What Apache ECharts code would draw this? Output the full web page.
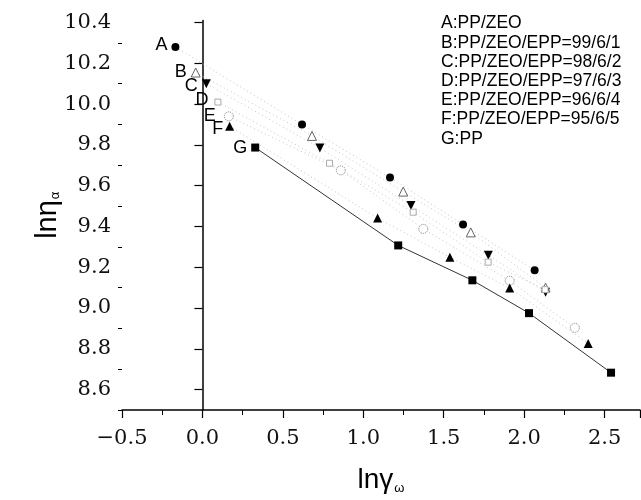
<!DOCTYPE html>
<html>
<head>
<meta charset="utf-8">
<script src="https://cdn.jsdelivr.net/npm/echarts@6/dist/echarts.min.js"></script>
<style>html,body{margin:0;padding:0;background:#fff}#c{width:641px;height:500px}</style>
</head>
<body>
<div id="c"></div>
<script>
// Data: [ln(shear rate), ln(apparent viscosity)]
const seriesNames = ['A', 'B', 'C', 'D', 'E', 'F', 'G'];
const dataA = [[-0.168, 10.28], [0.619, 9.90], [1.166, 9.64], [1.62, 9.41], [2.065, 9.185]];
const dataB = [[-0.042, 10.155], [0.681, 9.844], [1.248, 9.571], [1.668, 9.371], [2.133, 9.10]];
const dataC = [[0.024, 10.10], [0.730, 9.785], [1.296, 9.503], [1.777, 9.259], [2.133, 9.077]];
const dataD = [[0.096, 10.01], [0.79, 9.71], [1.31, 9.47], [1.776, 9.225], [2.13, 9.09]];
const dataE = [[0.164, 9.94], [0.86, 9.675], [1.373, 9.388], [1.91, 9.134], [2.315, 8.903]];
const dataF = [[0.169, 9.892], [1.089, 9.441], [1.538, 9.249], [1.91, 9.098], [2.398, 8.826]];
const dataG = [[0.328, 9.787], [1.217, 9.307], [1.678, 9.136], [2.03, 8.975], [2.54, 8.683]];
const legendLines = [
  'A:PP/ZEO',
  'B:PP/ZEO/EPP=99/6/1',
  'C:PP/ZEO/EPP=98/6/2',
  'D:PP/ZEO/EPP=97/6/3',
  'E:PP/ZEO/EPP=96/6/4',
  'F:PP/ZEO/EPP=95/6/5',
  'G:PP'
];
const yMajorTicks = [8.6, 8.8, 9.0, 9.2, 9.4, 9.6, 9.8, 10.0, 10.2, 10.4];
const yMinorTicks = [8.5, 8.7, 8.9, 9.1, 9.3, 9.5, 9.7, 9.9, 10.1, 10.3];

const chart = echarts.init(document.getElementById('c'));
const tickFont = {fontFamily: 'DejaVu Serif', fontSize: 21, color: '#111'};
const dotted = {color: '#c4c4c4', width: 1, type: [1, 3]};
const letterLabel = (txt, dx, dy) => ({
  show: true, position: 'left', distance: 4, formatter: txt,
  fontFamily: 'Liberation Sans', fontSize: 18, color: '#000', offset: [dx || 0, dy || 0]
});
function mk(name, data, symbol, size, itemStyle, lineStyle, lab, rot) {
  return {
    name: name, type: 'line', data: data.map((d, i) => i === 0 ? {value: d, label: lab} : d),
    symbol: symbol, symbolSize: size, symbolRotate: rot || 0, showSymbol: true,
    itemStyle: itemStyle, lineStyle: lineStyle, z: name === 'G' ? 3 : 2,
    label: {show: false}, emphasis: {disabled: true}, animation: false
  };
}
chart.setOption({
  animation: false,
  grid: {left: 122, right: 1, top: 20.5, bottom: 87.5},
  xAxis: {
    type: 'value', min: -0.5, max: 2.72, interval: 0.5,
    axisLine: {lineStyle: {color: '#000', width: 1.5}},
    axisTick: {length: 8, lineStyle: {color: '#000', width: 1.2}},
    minorTick: {show: true, splitNumber: 2, length: 5, lineStyle: {color: '#000', width: 1}},
    splitLine: {show: false},
    axisLabel: Object.assign({margin: 18, showMaxLabel: false, formatter: v => (v < 0 ? '\u2212' : '') + Math.abs(v).toFixed(1)}, tickFont),
    name: '{a|ln\u03b3}{b|\u03c9}', nameLocation: 'middle', nameGap: 56,
    nameTextStyle: {rich: {a: {fontFamily: 'Liberation Sans', fontSize: 28, color: '#000'}, b: {fontFamily: 'Liberation Sans', fontSize: 13, color: '#000', verticalAlign: 'bottom', padding: [16, 0, 0, 1]}}}
  },
  yAxis: [{
    type: 'value', min: 8.5, max: 10.41,
    axisLine: {lineStyle: {color: '#000', width: 1.5}},
    axisTick: {length: 8, customValues: yMajorTicks, lineStyle: {color: '#000', width: 1.2}},
    splitLine: {show: false},
    axisLabel: Object.assign({margin: 11, customValues: yMajorTicks, formatter: v => v.toFixed(1)}, tickFont),
    name: '{a|ln\u03b7}{b|\u03b1}', nameLocation: 'middle', nameGap: 60, nameMoveOverlap: false,
    nameTextStyle: {rich: {a: {fontFamily: 'Liberation Sans', fontSize: 29, color: '#000'}, b: {fontFamily: 'Liberation Sans', fontSize: 13, color: '#000', padding: [16, 0, 0, 1]}}}
  }, {
    type: 'value', min: 8.5, max: 10.41, position: 'left',
    axisLine: {show: false},
    axisTick: {show: true, length: 4, customValues: yMinorTicks, lineStyle: {color: '#000', width: 1}},
    axisLabel: {show: false}, splitLine: {show: false}
  }],
  graphic: [{
    type: 'text', x: 441, y: 14,
    style: {text: legendLines.join('\n'), font: '17.5px "Liberation Sans"', lineHeight: 19.2, fill: '#000'}
  }],
  series: [
    mk('A', dataA, 'circle', 8, {color: '#000'}, dotted, letterLabel('A', 0, -2)),
    mk('B', dataB, 'triangle', 9, {color: '#fff', borderColor: '#666', borderWidth: 1}, dotted, letterLabel('B')),
    mk('C', dataC, 'triangle', 9, {color: '#000'}, dotted, letterLabel('C', 0, 2), 180),
    mk('D', dataD, 'rect', 6, {color: '#fff', borderColor: '#aaa', borderWidth: 1}, dotted, letterLabel('D', -2, -2)),
    mk('E', dataE, 'circle', 9, {color: '#fff', borderColor: '#777', borderWidth: 1, borderType: 'dotted'}, dotted, letterLabel('E', -4, 0)),
    mk('F', dataF, 'triangle', 9, {color: '#000'}, dotted, letterLabel('F', 2, 3)),
    mk('G', dataG, 'rect', 8, {color: '#000'}, {color: '#333', width: 1}, letterLabel('G'))
  ]
});
</script>
</body>
</html>
